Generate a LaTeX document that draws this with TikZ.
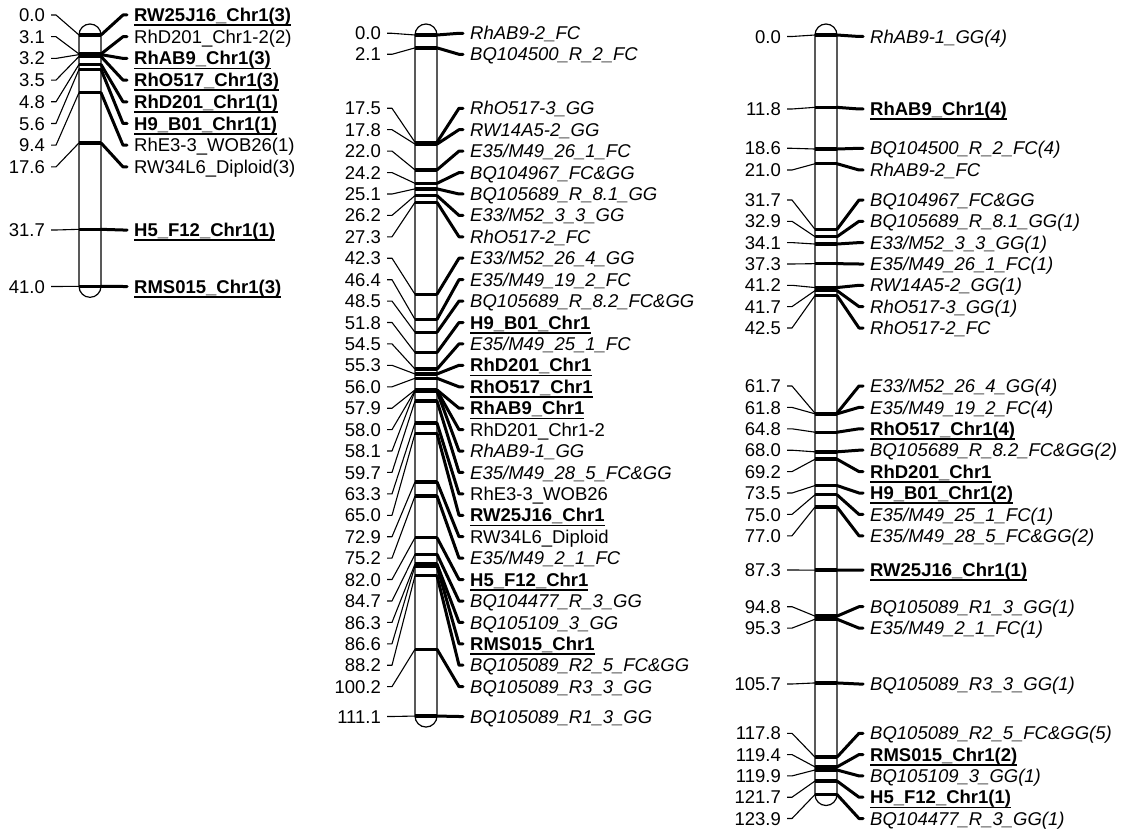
\documentclass[tikz,border=0pt]{standalone}
\usepackage{fontspec}
\setmainfont{Liberation Sans}
\newcommand\ulb[1]{\setbox0\hbox{\bfseries #1}\rlap{\rule[-4.5pt]{\wd0}{1.8pt}}\box0}
\newcommand\mkb[1]{\ulb{#1}}
\newcommand\mki[1]{{\itshape #1}}
\newcommand\mkn[1]{#1}
\tikzset{
  num/.style={anchor=east,inner sep=0pt,text height=13.2pt,text depth=0pt},
  lab/.style={anchor=west,inner sep=0pt,text height=13.2pt,text depth=0pt},
  chrom/.style={line width=1.2pt},
  band/.style={line width=3.4pt},
  lnk/.style={line width=1.1pt,line join=round},
  rlnk/.style={line width=3pt,line join=round,line cap=round},
}
\begin{document}
\begin{tikzpicture}[x=1pt,y=-1pt,font=\fontsize{18.5}{20}\selectfont]
\useasboundingbox[fill=white] (0,0) rectangle (1125,832);

% linkage group 1
\def\xl{79}
\foreach \cm/\ly/\st/\txt [count=\i] in {
  0.0/15/b/RW25J16\_Chr1(3), 3.1/36.7/n/RhD201\_Chr1-2(2),
  3.2/58.4/b/RhAB9\_Chr1(3), 3.5/80.1/b/RhO517\_Chr1(3),
  4.8/101.8/b/RhD201\_Chr1(1), 5.6/123.5/b/H9\_B01\_Chr1(1),
  9.4/145.2/n/RhE3-3\_WOB26(1), 17.6/166.9/n/RW34L6\_Diploid(3),
  31.7/230/b/H5\_F12\_Chr1(1), 41.0/286.5/b/RMS015\_Chr1(3)}{
  \coordinate (lA\i) at (\xl,{35+6.13*\cm});
  \coordinate (rA\i) at (\xl+22,{35+6.13*\cm});
  \node[num] (nA\i) at (\xl-34,\ly) {\cm};
  \node[lab] (mA\i) at (\xl+55,\ly) {\csname mk\st\endcsname{\txt}};
  \draw[band] (lA\i) -- (rA\i);
  \draw[lnk] ([xshift=6pt]nA\i.east) -- ++(5,0) -- (lA\i);
  \draw[rlnk] (rA\i) -- ([xshift=-11pt]mA\i.west) -- ([xshift=-7pt]mA\i.west);
}
\draw[chrom] (\xl,35) -- (\xl,{35+6.13*41.0}) arc[start angle=180,end angle=360,radius=11pt]
  -- (\xl+22,35) arc[start angle=0,end angle=180,radius=11pt];

% linkage group 2
\def\xl{415}
\foreach \cm/\ly/\st/\txt [count=\i] in {
  0.0/33.3/i/RhAB9-2\_FC, 2.1/54.3/i/BQ104500\_R\_2\_FC,
  17.5/108.3/i/RhO517-3\_GG, 17.8/129.7/i/RW14A5-2\_GG,
  22.0/151.1/i/{E35/M49\_26\_1\_FC}, 24.2/172.6/i/BQ104967\_FC\&GG,
  25.1/194.0/i/BQ105689\_R\_8.1\_GG, 26.2/215.4/i/{E33/M52\_3\_3\_GG},
  27.3/236.8/i/RhO517-2\_FC, 42.3/258.2/i/{E33/M52\_26\_4\_GG},
  46.4/279.7/i/{E35/M49\_19\_2\_FC}, 48.5/301.1/i/BQ105689\_R\_8.2\_FC\&GG,
  51.8/322.5/b/H9\_B01\_Chr1, 54.5/343.9/i/{E35/M49\_25\_1\_FC},
  55.3/365.3/b/RhD201\_Chr1, 56.0/386.8/b/RhO517\_Chr1,
  57.9/408.2/b/RhAB9\_Chr1, 58.0/429.6/n/RhD201\_Chr1-2,
  58.1/451.0/i/RhAB9-1\_GG, 59.7/472.4/i/{E35/M49\_28\_5\_FC\&GG},
  63.3/493.9/n/RhE3-3\_WOB26, 65.0/515.3/b/RW25J16\_Chr1,
  72.9/536.7/n/RW34L6\_Diploid, 75.2/558.1/i/{E35/M49\_2\_1\_FC},
  82.0/579.5/b/H5\_F12\_Chr1, 84.7/601.0/i/BQ104477\_R\_3\_GG,
  86.3/622.4/i/BQ105109\_3\_GG, 86.6/643.8/b/RMS015\_Chr1,
  88.2/665.2/i/BQ105089\_R2\_5\_FC\&GG, 100.2/686.6/i/BQ105089\_R3\_3\_GG,
  111.1/716.5/i/BQ105089\_R1\_3\_GG}{
  \coordinate (lB\i) at (\xl,{35+6.13*\cm});
  \coordinate (rB\i) at (\xl+22,{35+6.13*\cm});
  \node[num] (nB\i) at (\xl-34,\ly) {\cm};
  \node[lab] (mB\i) at (\xl+55,\ly) {\csname mk\st\endcsname{\txt}};
  \draw[band] (lB\i) -- (rB\i);
  \draw[lnk] ([xshift=6pt]nB\i.east) -- ++(5,0) -- (lB\i);
  \draw[rlnk] (rB\i) -- ([xshift=-11pt]mB\i.west) -- ([xshift=-7pt]mB\i.west);
}
\draw[chrom] (\xl,35) -- (\xl,{35+6.13*111.1}) arc[start angle=180,end angle=360,radius=11pt]
  -- (\xl+22,35) arc[start angle=0,end angle=180,radius=11pt];

% linkage group 3
\def\xl{815}
\foreach \cm/\ly/\st/\txt [count=\i] in {
  0.0/36.5/i/RhAB9-1\_GG(4), 11.8/109/b/RhAB9\_Chr1(4),
  18.6/148.3/i/BQ104500\_R\_2\_FC(4), 21.0/170/i/RhAB9-2\_FC,
  31.7/200/i/BQ104967\_FC\&GG, 32.9/221.3/i/BQ105689\_R\_8.1\_GG(1),
  34.1/242.6/i/{E33/M52\_3\_3\_GG(1)}, 37.3/264/i/{E35/M49\_26\_1\_FC(1)},
  41.2/285.3/i/RW14A5-2\_GG(1), 41.7/306.6/i/RhO517-3\_GG(1),
  42.5/328/i/RhO517-2\_FC,
  61.7/386/i/{E33/M52\_26\_4\_GG(4)}, 61.8/407.4/i/{E35/M49\_19\_2\_FC(4)},
  64.8/428.8/b/RhO517\_Chr1(4), 68.0/450.2/i/BQ105689\_R\_8.2\_FC\&GG(2),
  69.2/471.6/b/RhD201\_Chr1, 73.5/493/b/H9\_B01\_Chr1(2),
  75.0/514.4/i/{E35/M49\_25\_1\_FC(1)}, 77.0/535.8/i/{E35/M49\_28\_5\_FC\&GG(2)},
  87.3/570/b/RW25J16\_Chr1(1),
  94.8/606.7/i/BQ105089\_R1\_3\_GG(1), 95.3/628.1/i/{E35/M49\_2\_1\_FC(1)},
  105.7/684/i/BQ105089\_R3\_3\_GG(1),
  117.8/733.3/i/BQ105089\_R2\_5\_FC\&GG(5), 119.4/754.6/b/RMS015\_Chr1(2),
  119.9/775.9/i/BQ105109\_3\_GG(1), 121.7/797.2/b/H5\_F12\_Chr1(1),
  123.9/818.5/i/BQ104477\_R\_3\_GG(1)}{
  \coordinate (lC\i) at (\xl,{35+6.13*\cm});
  \coordinate (rC\i) at (\xl+22,{35+6.13*\cm});
  \node[num] (nC\i) at (\xl-34,\ly) {\cm};
  \node[lab] (mC\i) at (\xl+55,\ly) {\csname mk\st\endcsname{\txt}};
  \draw[band] (lC\i) -- (rC\i);
  \draw[lnk] ([xshift=6pt]nC\i.east) -- ++(5,0) -- (lC\i);
  \draw[rlnk] (rC\i) -- ([xshift=-11pt]mC\i.west) -- ([xshift=-7pt]mC\i.west);
}
\draw[chrom] (\xl,35) -- (\xl,{35+6.13*123.9}) arc[start angle=180,end angle=360,radius=11pt]
  -- (\xl+22,35) arc[start angle=0,end angle=180,radius=11pt];
\end{tikzpicture}
\end{document}
